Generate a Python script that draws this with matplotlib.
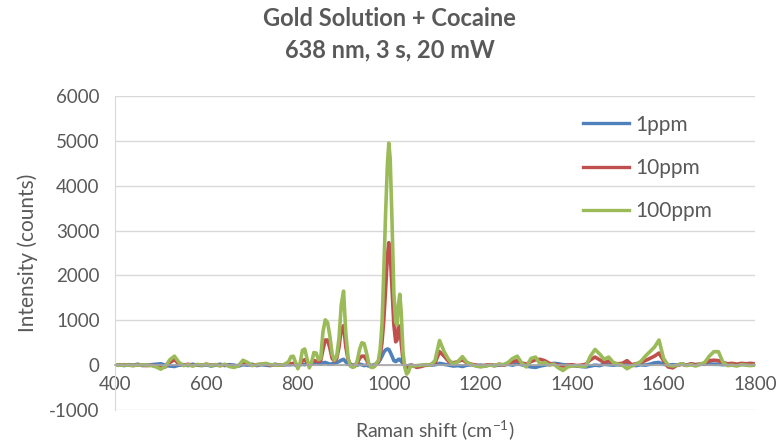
import matplotlib
matplotlib.use("Agg")
import matplotlib.pyplot as plt
import numpy as np

plt.rcParams['font.family'] = ['Lato', 'DejaVu Sans']
plt.rcParams['axes.unicode_minus'] = False
plt.rcParams['mathtext.fontset'] = 'custom'
plt.rcParams['mathtext.rm'] = 'Lato'
plt.rcParams['mathtext.default'] = 'regular'

# Raman shift sample positions (cm-1)
shift = [400, 410, 420, 430, 440, 450, 460, 470, 480, 490, 500, 510, 520, 530, 540, 550, 560, 570, 580, 590,
         600, 610, 620, 630, 640, 650, 660, 670, 680, 690, 700, 710, 720, 730, 740, 750, 760, 770, 780,
         785, 790, 795, 800, 805, 810, 815, 820, 825, 830, 835, 840, 845, 850, 855, 860, 865, 870, 875, 880,
         885, 890, 895, 900, 905, 910, 915, 920, 925, 930, 935, 940, 945, 950, 955, 960,
         964, 968, 972, 976, 980, 984, 988, 992, 996, 999, 1002, 1006, 1010, 1014, 1017, 1020, 1023, 1026,
         1030, 1034, 1038, 1042, 1046, 1050,
         1060, 1070, 1080, 1090, 1100, 1110, 1120, 1130, 1140, 1150, 1160, 1170, 1180, 1190, 1200, 1210,
         1220, 1230, 1240, 1250, 1260, 1270, 1280, 1290, 1300, 1310, 1320, 1330, 1340, 1350, 1360, 1370,
         1380, 1390, 1400, 1410, 1420, 1430, 1440, 1450, 1460, 1470, 1480, 1490, 1500, 1510, 1520, 1530,
         1540, 1550, 1560, 1570, 1580, 1590, 1600, 1610, 1620, 1630, 1640, 1650, 1660, 1670, 1680, 1690,
         1700, 1710, 1720, 1730, 1740, 1750, 1760, 1770, 1780, 1790, 1800]

ppm1 = [0, 10, -10, 10, 0, 20, -10, 0, 10, 20, 30, 0, -20, -30, 0, 10, -10, 20, 0, -10,
        10, -20, 0, 20, -10, 10, 0, -20, 10, 0, 20, -10, 10, 0, -10, 20, 0, 10, 10,
        10, 20, 0, -10, 10, 20, 10, 30, 0, 20, 40, 60, 40, 30, 50, 60, 40, 20, 30, 40,
        60, 80, 110, 130, 70, 20, 10, 0, 10, 0, 20, 10, -10, 0, -20, -10,
        0, 10, 30, 60, 120, 200, 290, 340, 360, 350, 290, 200, 100, 80, 100, 130, 130, 90,
        30, 0, -20, -10, 0, -10,
        -20, -10, 10, 0, 10, 40, 20, 0, -20, -10, -30, 0, 10, -10, 0, -20,
        10, -10, 0, 10, 20, 0, 30, 10, -20, -40, -50, -20, 0, 20, 40, 30,
        10, 0, -10, -20, -30, -40, -20, 0, -10, 20, 10, 0, 10, 0, 20, 0,
        -10, 10, 0, 20, 50, 60, 20, 0, 10, 0, 30, 0, 20, 10, 20, 20,
        30, 20, 20, 10, 20, 30, 10, 20, 20, 30, 20]

ppm10 = [0, 0, 10, 0, -10, 10, 0, -10, 0, -20, -60, -40, 60, 120, 30, 0, 20, -10, 10, 0,
         20, 0, 10, -10, 10, -10, -30, -10, 60, 30, 0, 10, 20, 20, 0, 10, 0, 10, 40,
         30, 40, 20, -20, 20, 100, 120, 60, 0, 40, 100, 90, 80, 100, 350, 560, 560, 380, 150, 90,
         150, 400, 800, 880, 400, 120, 20, -20, -10, 40, 150, 200, 200, 120, 20, -20,
         -20, -10, 30, 80, 200, 500, 1000, 1700, 2450, 2730, 2500, 1700, 900, 520, 560, 880, 850, 500,
         120, -20, -60, -40, -10, 0,
         -50, -30, 0, 10, 50, 300, 200, 80, 50, 80, 120, 50, 20, 0, -20, 0,
         10, -10, 20, 0, 30, 80, 100, 50, 20, 80, 120, 130, 100, 40, 20, 0,
         -20, 0, 10, -10, 0, 20, 120, 180, 120, 60, 90, 40, 30, 40, 100, 10,
         30, 60, 100, 150, 200, 270, 100, -40, -60, 0, 20, 0, 30, 10, 20, 40,
         100, 110, 100, 60, 30, 40, 20, 40, 30, 40, 30]

ppm100 = [0, 0, 0, 0, -5, 0, 5, 0, -10, -40, -90, -30, 120, 200, 60, -10, 10, -20, 15, 0,
          20, -10, 10, -15, 20, -30, -50, -20, 110, 60, -10, 10, 20, 40, 10, 5, 0, 10, 80,
          190, 200, 60, -80, 50, 330, 360, 150, -60, 60, 280, 270, 120, 150, 750, 1010, 950, 650, 250, 110,
          200, 600, 1350, 1650, 700, 150, -20, -50, -30, 100, 350, 500, 480, 280, 40, -50,
          -50, -30, 50, 100, 350, 900, 2100, 3400, 4500, 4950, 4600, 3200, 1600, 950, 900, 1350, 1580, 1200,
          300, -50, -200, -150, -30, -20,
          -10, 0, 10, 0, 100, 550, 300, 120, 20, 80, 190, 60, 10, -20, -40, -20,
          0, -10, 20, 10, 60, 150, 200, 40, -40, 150, 180, 20, 60, 0, 20, -60,
          -120, -40, -20, -10, -30, -20, 200, 350, 250, 130, 180, 60, 20, 0, -80, -20,
          20, 80, 200, 300, 400, 560, 150, 0, -20, 0, 30, -10, 10, -20, 20, 60,
          200, 300, 300, 60, -10, 0, -20, 10, 0, -10, 0]

series_names = ['1ppm', '10ppm', '100ppm']
series_colors = ['#4F81BD', '#C0504D', '#9BBB59']
y_ticks = [-1000, 0, 1000, 2000, 3000, 4000, 5000, 6000]
x_ticks = [400, 600, 800, 1000, 1200, 1400, 1600, 1800]

fig = plt.figure(figsize=(7.79, 4.42), dpi=100)
ax = fig.add_axes([115/779, 1-410/442, 640/779, 314/442])

for ys, name, col in zip([ppm1, ppm10, ppm100], series_names, series_colors):
    ax.plot(shift, ys, color=col, lw=2.6, label=name, solid_joinstyle='round')

ax.set_xlim(400, 1800)
ax.set_ylim(-1000, 6000)
ax.set_xticks(x_ticks)
ax.set_yticks(y_ticks)
ax.yaxis.grid(True, color='#D9D9D9', lw=1)
ax.set_axisbelow(True)
for s in ['top', 'right']:
    ax.spines[s].set_visible(False)
ax.spines['bottom'].set_position(('data', 0))
ax.spines['bottom'].set_color('#A6A6A6')
ax.spines['bottom'].set_linewidth(1.2)
ax.spines['left'].set_color('#D9D9D9')
ax.tick_params(axis='both', length=0, labelsize=13.5, colors='#595959')
ax.tick_params(axis='x', pad=8)
ax.tick_params(axis='y', pad=11)

ax.set_ylabel('Intensity (counts)', fontsize=15, color='#595959', labelpad=8)
fig.text(435/779, 1-430/442, 'Raman shift (cm$^{-1}$)', fontsize=14, color='#595959',
         ha='center', va='center')

fig.text(0.5, 1-19/442, 'Gold Solution + Cocaine', fontsize=17, fontweight='bold',
         color='#595959', ha='center', va='center')
fig.text(0.5, 1-50/442, '638 nm, 3 s, 20 mW', fontsize=17, fontweight='bold',
         color='#595959', ha='center', va='center')

leg = ax.legend(loc='upper left', bbox_to_anchor=(564/779, 1-96/442), bbox_transform=fig.transFigure,
                frameon=False, fontsize=15, handlelength=2.2, labelspacing=1.12,
                handletextpad=0.3)
for t in leg.get_texts():
    t.set_color('#595959')
for h in leg.get_lines():
    h.set_linewidth(2.4)

fig.savefig('out.png', dpi=100)
